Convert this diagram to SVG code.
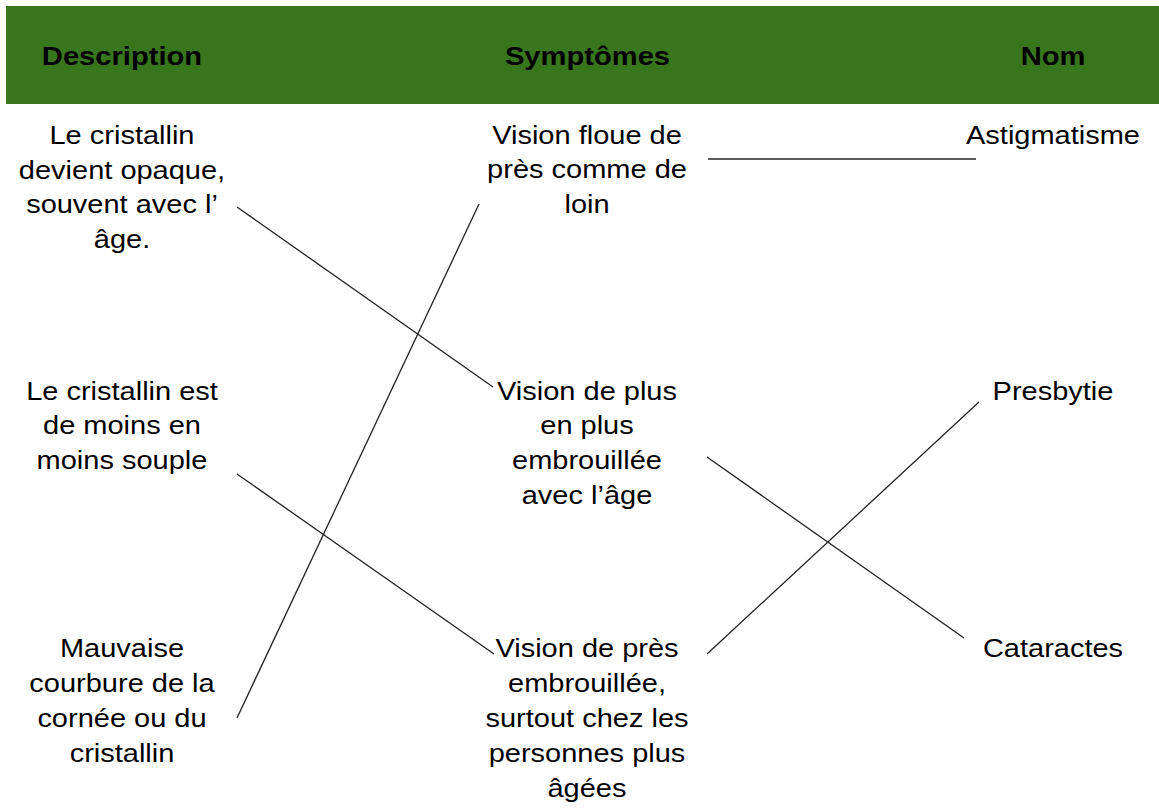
<svg xmlns="http://www.w3.org/2000/svg" width="1159" height="808" viewBox="0 0 1159 808">
<style>
.hd{font-family:"Liberation Sans",Arial,sans-serif;font-weight:bold;font-size:26.5px;fill:#000;text-anchor:middle}
.tx{font-family:"Liberation Sans",Arial,sans-serif;font-size:25px;fill:#000;text-anchor:middle}
.ln{stroke:#222;stroke-width:1.3;fill:none}
</style>
<rect width="1159" height="808" fill="#fff"/>
<g id="header">
<rect x="6" y="6" width="1153" height="98" fill="#38761d"/>
<text class="hd" transform="translate(122,65) scale(1.1,1)" x="0" y="0">Description</text>
<text class="hd" transform="translate(587.5,65) scale(1.1,1)" x="0" y="0">Symptômes</text>
<text class="hd" transform="translate(1053,65) scale(1.1,1)" x="0" y="0">Nom</text>
</g>
<g id="connectors">
<line class="ln" x1="708" y1="159" x2="976" y2="159"/>
<line class="ln" x1="237" y1="207" x2="493" y2="387"/>
<line class="ln" x1="237" y1="718" x2="479" y2="204"/>
<line class="ln" x1="237" y1="474" x2="494" y2="654"/>
<line class="ln" x1="707" y1="457" x2="964" y2="638"/>
<line class="ln" x1="707" y1="654" x2="979" y2="402"/>
</g>
<g id="desc-cataracte">
<text class="tx" transform="translate(122,0) scale(1.16,1)"><tspan x="0" y="144.5">Le cristallin</tspan><tspan x="0" y="179">devient opaque,</tspan><tspan x="0" y="213.5">souvent avec l’</tspan><tspan x="0" y="248">âge.</tspan></text>
</g>
<g id="desc-presbytie">
<text class="tx" transform="translate(122,0) scale(1.16,1)"><tspan x="0" y="400">Le cristallin est</tspan><tspan x="0" y="434.5">de moins en</tspan><tspan x="0" y="469">moins souple</tspan></text>
</g>
<g id="desc-astigmatisme">
<text class="tx" transform="translate(122,0) scale(1.16,1)"><tspan x="0" y="657">Mauvaise</tspan><tspan x="0" y="692">courbure de la</tspan><tspan x="0" y="727">cornée ou du</tspan><tspan x="0" y="762">cristallin</tspan></text>
</g>
<g id="symp-floue">
<text class="tx" transform="translate(587,0) scale(1.16,1)"><tspan x="0" y="144">Vision floue de</tspan><tspan x="0" y="178.5">près comme de</tspan><tspan x="0" y="213">loin</tspan></text>
</g>
<g id="symp-age">
<text class="tx" transform="translate(587,0) scale(1.16,1)"><tspan x="0" y="400">Vision de plus</tspan><tspan x="0" y="434.5">en plus</tspan><tspan x="0" y="469">embrouillée</tspan><tspan x="0" y="504">avec l’âge</tspan></text>
</g>
<g id="symp-pres">
<text class="tx" transform="translate(587,0) scale(1.16,1)"><tspan x="0" y="657">Vision de près</tspan><tspan x="0" y="692">embrouillée,</tspan><tspan x="0" y="727">surtout chez les</tspan><tspan x="0" y="762">personnes plus</tspan><tspan x="0" y="797">âgées</tspan></text>
</g>
<g id="nom-astigmatisme">
<text class="tx" transform="translate(1053,0) scale(1.16,1)"><tspan x="0" y="144">Astigmatisme</tspan></text>
</g>
<g id="nom-presbytie">
<text class="tx" transform="translate(1053,0) scale(1.16,1)"><tspan x="0" y="400">Presbytie</tspan></text>
</g>
<g id="nom-cataractes">
<text class="tx" transform="translate(1053,0) scale(1.16,1)"><tspan x="0" y="657">Cataractes</tspan></text>
</g>
</svg>
